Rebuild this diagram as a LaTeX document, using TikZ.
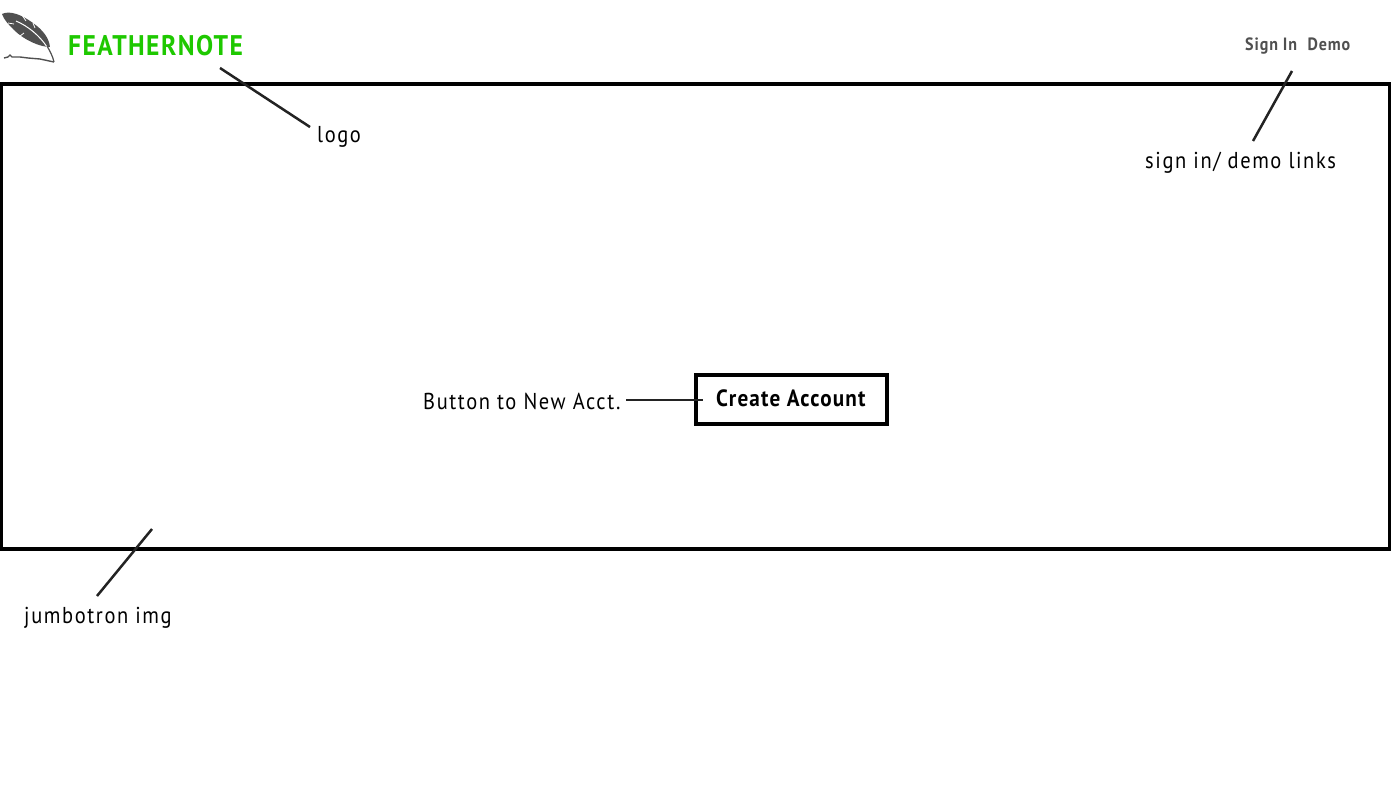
\documentclass[tikz,border=0pt]{standalone}
\usepackage{fontspec}
\usetikzlibrary{positioning}
\setmainfont{PT Sans}
\newfontfamily\notefont[FakeStretch=0.89,LetterSpace=7]{PT Sans}
\newfontfamily\boldfont[FakeStretch=0.9,LetterSpace=5]{PT Sans Bold}
\definecolor{mygreen}{RGB}{30,200,0}
\definecolor{mygrey}{RGB}{80,80,80}
\definecolor{myline}{RGB}{35,35,35}
\tikzset{
  note/.style={font=\notefont\fontsize{23}{26}\selectfont, text=black, inner sep=0pt, anchor=base west},
  link/.style={font=\boldfont\fontsize{17.8}{20}\selectfont, text=mygrey, inner sep=0pt, anchor=base west},
  line/.style={line width=2.5pt, color=myline},
  frame/.style={rectangle, draw=black, line width=4pt, inner sep=0pt}
}
\begin{document}
\begin{tikzpicture}[x=1pt, y=-1pt]
  \useasboundingbox (0,0) rectangle (1391,804);

  % Jumbotron
  \node[frame, minimum width=1389pt, minimum height=465pt] (jumbotron) at (695,316) {};

  % Logo
  \fill[mygrey] (2,14) .. controls (10,10) and (22,15) .. (33,23)
    .. controls (43,30) and (49,38) .. (50,47)
    .. controls (40,47) and (24,40) .. (14,30)
    .. controls (9,25) and (4,20) .. (2,14) -- cycle;
  \draw[white, line width=1pt] (16,21) .. controls (28,26) and (40,36) .. (47,47);
  \draw[white, line width=0.8pt] (22,15) -- (26,21) (33,23) -- (35,28) (8,23) -- (14,24) (20,36) -- (24,33);
  \draw[mygrey, line width=1.2pt] (47,46) .. controls (50,51) and (53,57) .. (54,62);
  \draw[mygrey, line width=1.4pt] (4,58) -- (8,57) -- (10,55) -- (12,57) -- (20,57) -- (28,58) -- (40,59) -- (54,62);
  \node[font=\boldfont\fontsize{28.4}{32}\selectfont, text=mygreen, inner sep=0pt, anchor=base west] (brand) at (68,55) {FEATHERNOTE};

  % Logo note
  \node[note] (lognote) at (317,142) {logo};
  \coordinate (logotip) at (220,68);
  \coordinate (logoend) at (310,127);
  \draw[line] (logotip) -- (logoend);

  % Links
  \node[link] (signin) at (1245,50) {Sign In};
  \node[link, right=10pt of signin.base east, anchor=base west] (demo) {Demo};
  \node[note] (linknote) at (1145,168) {sign in/ demo links};
  \coordinate (linktip) at (1292,71);
  \coordinate (linkend) at (1253,141);
  \draw[line] (linktip) -- (linkend);

  % Button
  \node[frame, minimum width=191pt, minimum height=49pt] (button) at (791.5,399.5) {};
  \node[font=\boldfont\fontsize{23.5}{26}\selectfont, inner sep=0pt, anchor=base west] (btntext) at (716,406.5) {Create Account};
  \node[note] (btnnote) at (423,409) {Button to New Acct.};
  \coordinate (btnfrom) at (626,400);
  \coordinate (btntip) at (703,400);
  \draw[line] (btnfrom) -- (btntip);

  % Jumbotron note
  \node[note] (jumbonote) at (24,623) {jumbotron img};
  \coordinate (jumbotip) at (152,529);
  \coordinate (jumboend) at (97,596);
  \draw[line] (jumbotip) -- (jumboend);
\end{tikzpicture}
\end{document}
